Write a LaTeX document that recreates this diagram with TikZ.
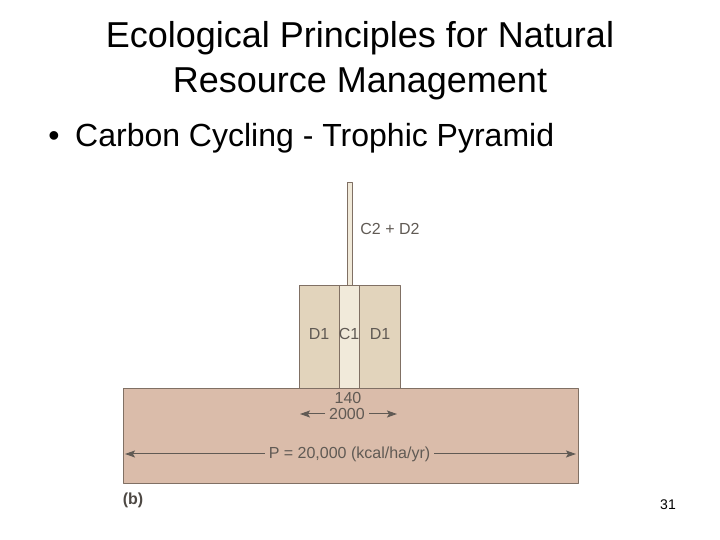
\documentclass[tikz,border=0pt]{standalone}
\usepackage{fontspec}
\setmainfont{Liberation Sans}
\usetikzlibrary{arrows.meta}
\definecolor{basefill}{RGB}{218,188,170}
\definecolor{boxfill}{RGB}{226,212,188}
\definecolor{colfill}{RGB}{241,234,218}
\definecolor{edge}{RGB}{128,112,100}
\definecolor{ink}{RGB}{96,90,84}
\tikzset{
  lbl/.style={text=ink, font=\fontsize{16}{18}\selectfont, inner sep=4pt},
  flow/.style={->, draw=ink, fill=ink, line width=1pt}
}
\begin{document}
\begin{tikzpicture}[x=1pt, y=1pt, line join=round, >={Stealth[length=10pt,width=7pt,inset=2pt]}]
	\useasboundingbox (0,0) rectangle (720,540);
	% titel und punkt
	\node[anchor=base, font=\fontsize{36}{40}\selectfont] (title1) at (360,492) {Ecological Principles for Natural};
	\node[anchor=base, font=\fontsize{36}{40}\selectfont] (title2) at (360,447) {Resource Management};
	\node[anchor=base, font=\fontsize{32}{36}\selectfont] (bullet) at (54,393) {\textbullet};
	\node[anchor=base west, inner sep=0pt, font=\fontsize{32}{36}\selectfont] (topic) at (75,393) {Carbon Cycling - Trophic Pyramid};
	% pyramide
	\filldraw[fill=basefill, draw=edge, line width=0.8pt] (123,57) rectangle (578,152);
	\filldraw[fill=boxfill, draw=edge, line width=0.8pt] (299,152) rectangle (400,255);
	\filldraw[fill=colfill, draw=edge, line width=0.8pt] (339,152) rectangle (359,255);
	\filldraw[fill=colfill, draw=edge, line width=0.8pt] (347,255) rectangle (352,358);
	\node[lbl] (top) at (390,311) {C2 + D2};
	\node[lbl] (d1a) at (319,206) {D1};
	\node[lbl] (c1) at (349,206) {C1};
	\node[lbl] (d1b) at (380,206) {D1};
	\node[lbl, inner sep=0pt] (n140) at (348,142) {140};
	\node[lbl, inner ysep=0pt, inner xsep=4pt] (n2000) at (347,126) {2000};
	\coordinate (l2000) at (300,126);
	\coordinate (r2000) at (397,126);
	\draw[flow] (n2000.west) -- (l2000);
	\draw[flow] (n2000.east) -- (r2000);
	\node[lbl] (prod) at (349.5,86) {P = 20,000 (kcal/ha/yr)};
	\coordinate (lprod) at (125,86);
	\coordinate (rprod) at (576,86);
	\draw[flow] (prod.west) -- (lprod);
	\draw[flow] (prod.east) -- (rprod);
	\node[text=ink!80!black, font=\bfseries\fontsize{16}{18}\selectfont] (part) at (133,40) {(b)};
	\node[font=\fontsize{14}{16}\selectfont] (page) at (668,35) {31};
\end{tikzpicture}
\end{document}
